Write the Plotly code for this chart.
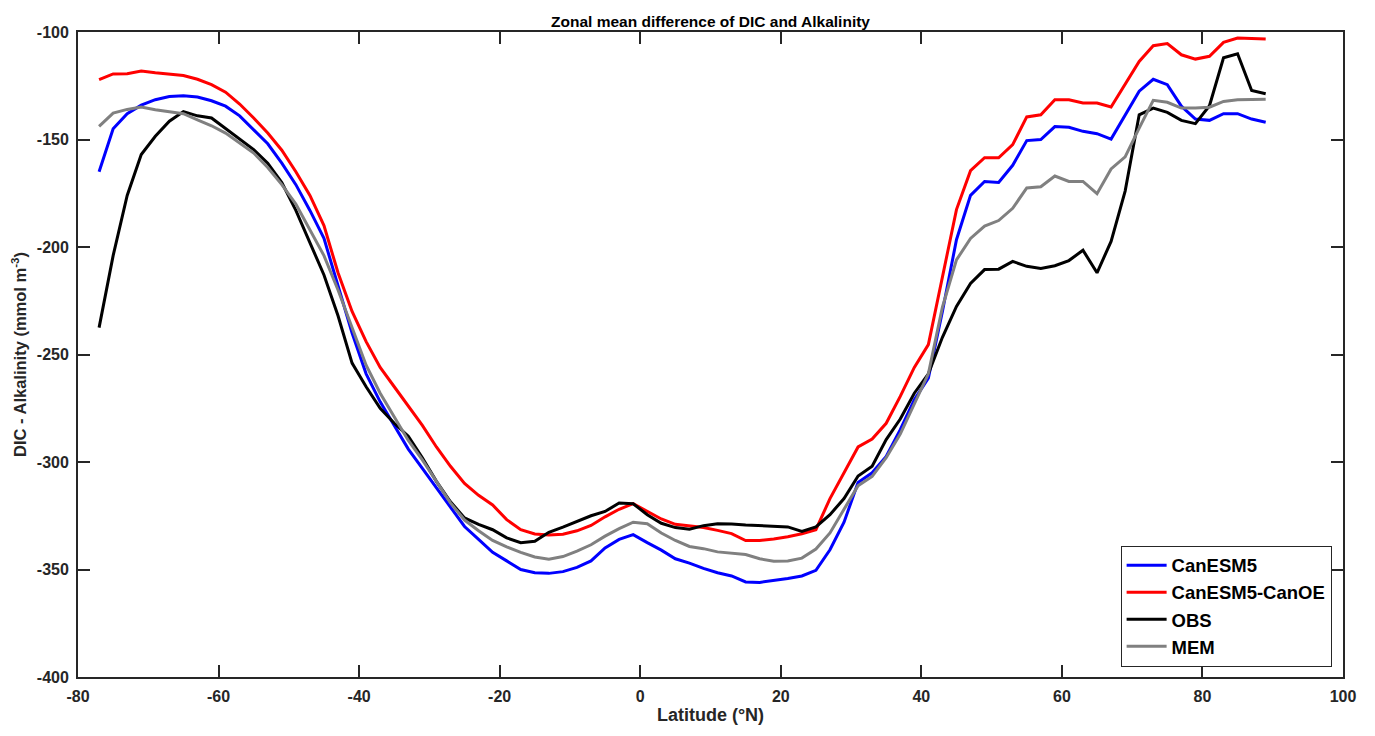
import plotly.graph_objects as go

lat = [-77, -75, -73, -71, -69, -67, -65, -63, -61, -59, -57, -55, -53, -51, -49, -47,
       -45, -43, -41, -39, -37, -35, -33, -31, -29, -27, -25, -23, -21, -19, -17, -15,
       -13, -11, -9, -7, -5, -3, -1, 1, 3, 5, 7, 9, 11, 13, 15, 17,
       19, 21, 23, 25, 27, 29, 31, 33, 35, 37, 39, 41, 43, 45, 47, 49,
       51, 53, 55, 57, 59, 61, 63, 65, 67, 69, 71, 73, 75, 77, 79, 81,
       83, 85, 87, 89]

canesm5 = [-165, -145, -138, -134, -131.5, -130, -129.6, -130.2, -132, -134.5, -139, -145.4, -152, -161, -171, -183,
           -196, -218, -240, -259, -272, -283, -294, -303, -312, -321, -330, -336, -342, -346, -350, -351.5,
           -351.8, -351, -349, -346, -340, -336, -333.8, -337.5, -341, -345, -347, -349.5, -351.5, -353, -355.8, -356,
           -355.2, -354.2, -353, -350.4, -340.8, -328, -309.5, -305, -297.4, -285, -271, -261, -230, -196.6, -176, -169.5,
           -170, -162, -150.5, -150, -144, -144.3, -146.2, -147.3, -149.8, -138.5, -127.5, -122, -124.5, -134.5, -140.5, -141.1,
           -138, -138, -140.5, -142]

canoe = [-122.2, -119.5, -119.4, -118.2, -119, -119.6, -120.2, -122, -124.5, -128, -133.5, -140, -147, -155, -165, -176,
         -190, -212, -230, -244, -256, -265, -274, -283, -293, -302, -310, -315.5, -320, -326.8, -331.5, -333.5,
         -334, -333.6, -332, -329.5, -325.5, -322, -319.4, -323, -326.5, -329, -329.8, -330.5, -331.8, -333.3, -336.5, -336.5,
         -335.8, -334.8, -333.4, -331.5, -317, -305, -293, -289.3, -282, -269.5, -256, -245.4, -214, -182.6, -164.5, -158.5,
         -158.5, -152.4, -139.5, -138.5, -131.5, -131.5, -133, -133, -134.9, -124.5, -113.7, -106.4, -105.4, -110.6, -112.6, -111.3,
         -104.8, -102.8, -103, -103.3]

obs = [-237.5, -204, -176, -157, -148.5, -141.5, -137, -139, -140, -145, -150, -154.7, -161, -170, -183, -198,
       -213, -232, -254, -265, -275, -282, -288, -298, -309, -318.5, -326, -329, -331.5, -335.3, -337.5, -336.9,
       -332.7, -330.3, -327.5, -325, -323, -319.1, -319.4, -324.5, -328.5, -330.5, -331.3, -329.6, -328.7, -328.8, -329.3, -329.7,
       -330, -330.2, -332.3, -330.2, -324.5, -317, -306.5, -302, -289.6, -280, -268, -259, -242, -227.6, -217, -210.5,
       -210.3, -206.7, -209, -210, -208.7, -206.3, -201.5, -212, -197.4, -174, -138.5, -135.4, -137.4, -141.1, -142.6, -134.3,
       -112, -110.1, -127.2, -128.7]

mem = [-143.9, -137.7, -136, -134.9, -136.2, -137, -138, -140.9, -143.6, -147, -151.5, -156.3, -163, -171, -180, -192,
       -204, -220, -238, -255, -268, -279, -290, -299, -309, -319, -327, -332, -336.5, -339.5, -342, -344.2,
       -345.2, -344, -341.5, -338.5, -334.5, -331, -328, -328.7, -333, -336.5, -339.3, -340.3, -341.8, -342.5, -343, -345,
       -346.2, -346, -344.7, -340.5, -333, -322, -311, -306.7, -298, -287, -273, -259, -228, -206, -196, -190.3,
       -187.7, -182, -172.5, -172, -167, -169.5, -169.5, -175.2, -163.7, -158.1, -144.7, -131.8, -132.7, -135.4, -135.4, -135,
       -132.3, -131.5, -131.4, -131.3]

series = [
    ("CanESM5", canesm5, "#0000ff"),
    ("CanESM5-CanOE", canoe, "#ff0000"),
    ("OBS", obs, "#000000"),
    ("MEM", mem, "#808080"),
]

xticks = [-80, -60, -40, -20, 0, 20, 40, 60, 80, 100]
yticks = [-400, -350, -300, -250, -200, -150, -100]

FONT = "Liberation Sans, Arial, sans-serif"

fig = go.Figure()
for name, vals, col in series:
    fig.add_trace(go.Scatter(x=lat, y=vals, mode="lines", name=name,
                             line=dict(color=col, width=3)))

axis_common = dict(
    showline=True, linecolor="#262626", linewidth=1.8, mirror="allticks",
    ticks="inside", ticklen=12, tickwidth=1.8, tickcolor="#262626",
    showgrid=False, zeroline=False,
    tickfont=dict(family=FONT, size=16, color="#262626", weight="bold"),
)

fig.update_layout(
    width=1375, height=736,
    margin=dict(l=78, r=32, t=32, b=59),
    paper_bgcolor="white", plot_bgcolor="white",
    font=dict(family=FONT, color="#262626"),
    title=dict(text="<b>Zonal mean difference of DIC and Alkalinity</b>",
               x=0.5, xref="paper", xanchor="center", y=1, yref="paper",
               yanchor="bottom", pad=dict(b=5),
               font=dict(family=FONT, size=15.5, color="#000000")),
    xaxis=dict(range=[-80, 100], tickvals=xticks, ticktext=[str(v) for v in xticks],
               title=dict(text="<b>Latitude (°N)</b>", standoff=4,
                          font=dict(family=FONT, size=18, color="#262626")),
               ticklabelstandoff=4,
               **axis_common),
    yaxis=dict(range=[-400, -100], tickvals=yticks, ticktext=[str(v) for v in yticks],
               title=dict(text="<b>DIC - Alkalinity (mmol m<sup>-3</sup>)</b>", standoff=6,
                          font=dict(family=FONT, size=16.5, color="#262626")),
               ticklabelstandoff=4,
               **axis_common),
    legend=dict(x=0.991, xanchor="right", y=0.016, yanchor="bottom",
                bgcolor="white", bordercolor="#262626", borderwidth=1,
                font=dict(family=FONT, size=18.5, color="#000000", weight="bold"),
                tracegroupgap=0, itemwidth=40),
    showlegend=True,
)

fig.write_html("out.html")
